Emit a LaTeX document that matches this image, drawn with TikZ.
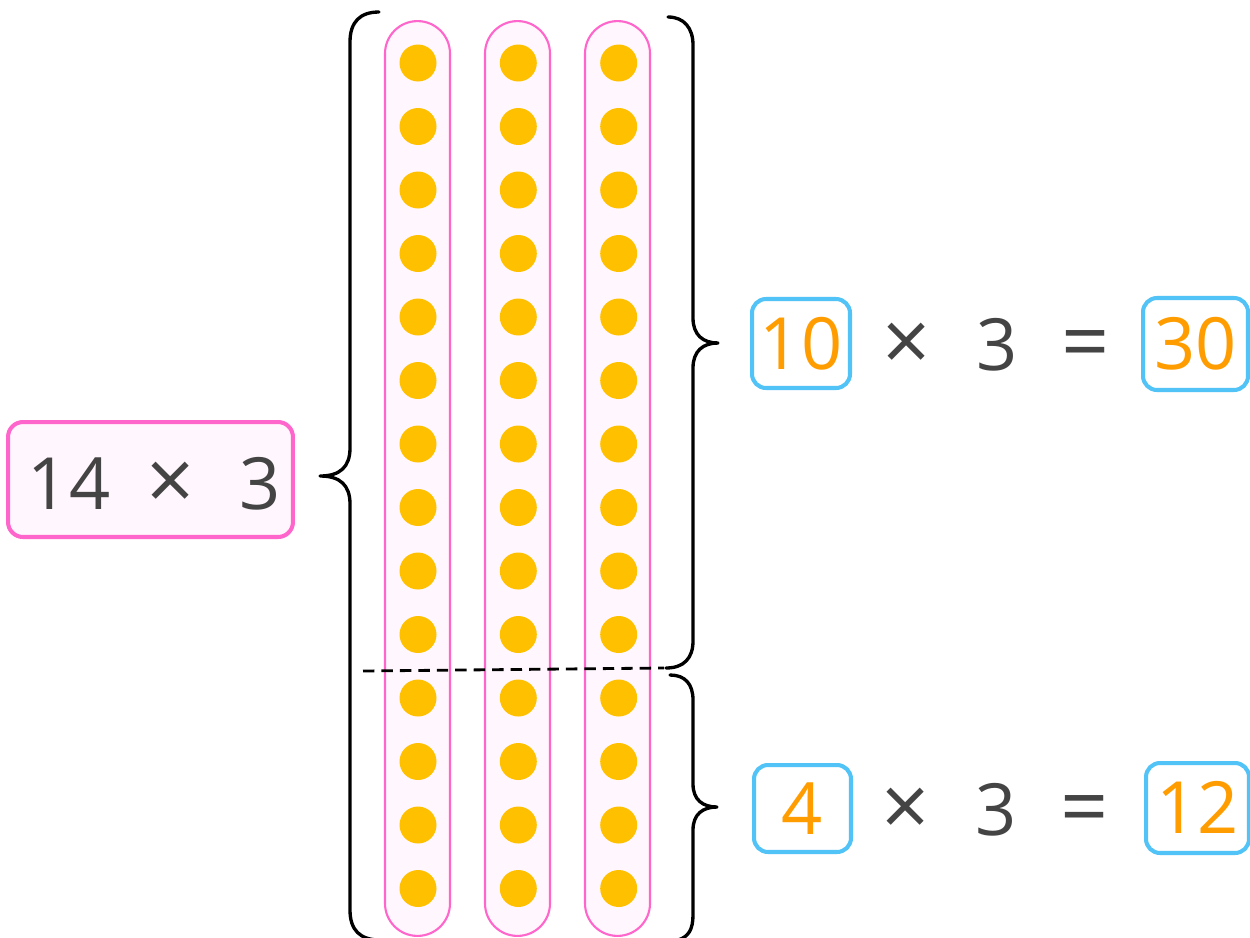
\documentclass[tikz,border=0pt]{standalone}
\usepackage{fontspec}
\setmainfont{Open Sans}
\definecolor{pinkline}{HTML}{FF66CC}
\definecolor{pinkfill}{HTML}{FFF7FD}
\definecolor{dotcol}{HTML}{FFC000}
\definecolor{bluecol}{HTML}{52C3F7}
\definecolor{orangecol}{HTML}{FF9D00}
\definecolor{textgray}{HTML}{444444}
\newcommand{\numfont}{\fontsize{41}{41}\selectfont}
\newcommand{\opfont}{\fontsize{48}{48}\selectfont}
\begin{document}
\begin{tikzpicture}[x=0.02cm,y=-0.02cm,
  colbox/.style={draw=pinkline, line width=1.2pt, fill=pinkfill, rounded corners=0.65cm,
    minimum width=1.3cm, minimum height=18.3cm, inner sep=0pt},
  dotnode/.style={circle, fill=dotcol, minimum size=0.74cm, inner sep=0pt},
  bracepath/.style={line width=1.9pt, line cap=round, line join=round},
  bluebox/.style={draw=bluecol, line width=2.3pt, rounded corners=0.28cm, fill=white,
    text=orangecol, font=\numfont, text height=29.3pt, text depth=0pt, inner sep=0pt},
  pinkbox/.style={draw=pinkline, line width=2.3pt, rounded corners=0.3cm, fill=pinkfill,
    minimum width=5.7cm, minimum height=2.3cm, inner sep=0pt},
  txt/.style={text=textgray, font=\numfont, anchor=base, inner sep=0pt},
  optxt/.style={text=textgray, font=\opfont, anchor=base, inner sep=0pt},
  divider/.style={line width=1.6pt, dash pattern=on 6.5pt off 4pt}
]
\useasboundingbox (0,0) rectangle (1250,937);
\fill[white] (0,0) rectangle (1250,937);

% columns
\node[colbox] (c1) at (417.5,478.5) {};
\node[colbox] (c2) at (517.5,478.5) {};
\node[colbox] (c3) at (617.5,478.5) {};

% dots
\foreach \c [count=\i] in {418,518.3,618.7}{
  \foreach \r in {0,...,13}{
    \node[dotnode] (d\i-\r) at (\c,{63+63.5*\r}) {};
  }
}

% dashed divider
\coordinate (dashL) at (363,671);
\coordinate (dashR) at (664,668);
\draw[divider] (dashL) -- (dashR);

% left brace
\draw[bracepath] (379,12) .. controls (360,12) and (350,22) .. (350,42)
  -- (350,448) .. controls (350,467) and (340,476) .. (320,476)
  .. controls (340,476) and (350,485) .. (350,504)
  -- (350,910) .. controls (350,930) and (360,940) .. (380,940);

% upper right brace
\draw[bracepath] (668,17) .. controls (684,17) and (693,28) .. (693,45)
  -- (693,318) .. controls (693,335) and (703,343) .. (718,343)
  .. controls (703,343) and (693,351) .. (693,368)
  -- (693,641) .. controls (693,658) and (684,668) .. (666,668);

% lower right brace
\draw[bracepath] (670,675) .. controls (685,675) and (693,684) .. (693,700)
  -- (693,784) .. controls (693,800) and (703,807) .. (717,807)
  .. controls (703,807) and (693,814) .. (693,830)
  -- (693,915) .. controls (693,930) and (688,937) .. (678,940);

% left box
\node[pinkbox] (lbox) at (150.5,479.5) {};
\node[txt] (l14) at (69,509) {14};
\node[optxt] (ltimes) at (171,510) {×};
\node[txt] (l3) at (260,509) {3};

% upper equation
\node[bluebox, minimum width=1.96cm, minimum height=1.78cm] (b10) at (801,343.5) {10};
\node[optxt] (utimes) at (907,371) {×};
\node[txt] (u3) at (997,370) {3};
\node[optxt] (ueq) at (1086,371) {=};
\node[bluebox, minimum width=2.1cm, minimum height=1.84cm] (b30) at (1195.5,344) {30};

% lower equation
\node[bluebox, minimum width=1.94cm, minimum height=1.74cm] (b4) at (802.5,808.5) {4};
\node[optxt] (dtimes) at (906,836) {×};
\node[txt] (d3) at (996,835) {3};
\node[optxt] (deq) at (1085,836) {=};
\node[bluebox, minimum width=2.06cm, minimum height=1.8cm] (b12) at (1197.5,808) {12};
\end{tikzpicture}
\end{document}
